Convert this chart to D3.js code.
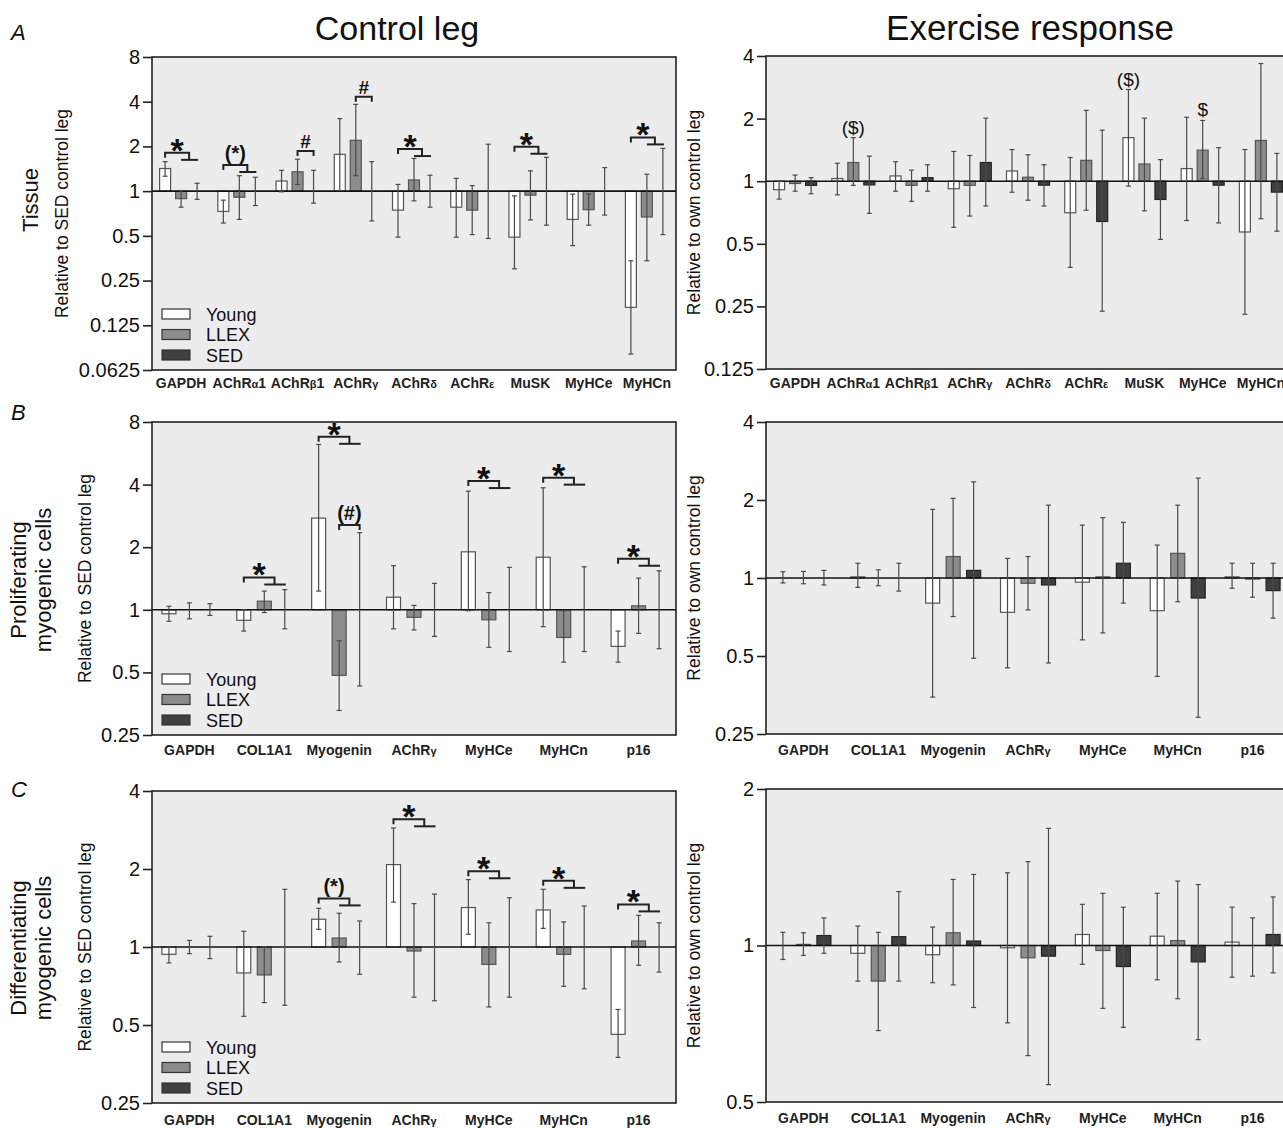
<!DOCTYPE html>
<html>
<head>
<meta charset="utf-8">
<script src="https://cdn.jsdelivr.net/npm/d3@7"></script>
<style>
  body { margin: 0; background: #fff; }
  text { font-family: "Liberation Sans", Arial, sans-serif; }
</style>
</head>
<body>
<svg id="fig" width="1283" height="1128"></svg>
<script>
// groups and categories
const groups = ["Young", "LLEX", "SED"];
const catsTissue = ["GAPDH", "AChRα1", "AChRβ1", "AChRγ", "AChRδ", "AChRε", "MuSK", "MyHCe", "MyHCn"];
const catsCells = ["GAPDH", "COL1A1", "Myogenin", "AChRγ", "MyHCe", "MyHCn", "p16"];

// y tick values
const ticksTissueCtrl = [8, 4, 2, 1, 0.5, 0.25, 0.125, 0.0625];
const ticksTissueEx = [4, 2, 1, 0.5, 0.25, 0.125];
const ticksProlifCtrl = [8, 4, 2, 1, 0.5, 0.25];
const ticksProlifEx = [4, 2, 1, 0.5, 0.25];
const ticksDiffCtrl = [4, 2, 1, 0.5, 0.25];
const ticksDiffEx = [2, 1, 0.5];

// each entry: [mean, lower error, upper error] (fold change)
const tissueCtrlYoung = [[1.42,1.26,1.58],[0.73,0.61,0.87],[1.17,0.99,1.38],[1.77,1.01,3.08],[0.745,0.49,1.11],[0.78,0.49,1.22],[0.49,0.30,0.93],[0.645,0.43,0.955],[0.165,0.08,0.34]];
const tissueCtrlLLEX  = [[0.89,0.78,1.01],[0.91,0.645,1.27],[1.35,1.11,1.64],[2.2,1.27,3.84],[1.19,0.86,1.66],[0.745,0.51,1.09],[0.94,0.64,1.37],[0.75,0.59,0.955],[0.67,0.34,1.30]];
const tissueCtrlSED   = [[1,0.88,1.13],[1,0.80,1.24],[1,0.83,1.38],[1,0.63,1.58],[1,0.78,1.28],[1,0.48,2.07],[1,0.59,1.69],[1,0.69,1.44],[1,0.51,1.94]];

const tissueExYoung = [[0.91,0.82,1.0],[1.03,0.86,1.22],[1.06,0.895,1.24],[0.92,0.60,1.39],[1.12,0.885,1.42],[0.705,0.385,1.3],[1.62,0.947,2.76],[1.15,0.647,2.03],[0.57,0.229,1.42]];
const tissueExLLEX  = [[0.975,0.895,1.07],[1.23,0.955,1.62],[0.955,0.80,1.13],[0.955,0.68,1.33],[1.045,0.81,1.34],[1.26,0.725,2.19],[1.21,0.72,2.01],[1.41,1.03,1.96],[1.57,0.66,3.68]];
const tissueExSED   = [[0.955,0.87,1.04],[0.96,0.70,1.32],[1.04,0.895,1.2],[1.23,0.76,2.01],[0.957,0.76,1.2],[0.64,0.237,1.76],[0.817,0.525,1.27],[0.957,0.63,1.45],[0.886,0.575,1.36]];

const prolifCtrlYoung = [[0.957,0.88,1.04],[0.89,0.79,1.0],[2.76,1.23,6.24],[1.15,0.81,1.63],[1.9,0.99,3.72],[1.79,0.83,3.86],[0.667,0.56,0.79]];
const prolifCtrlLLEX  = [[1,0.905,1.08],[1.10,0.97,1.23],[0.484,0.328,0.71],[0.92,0.80,1.05],[0.895,0.66,1.21],[0.736,0.56,0.99],[1.045,0.77,1.42]];
const prolifCtrlSED   = [[1,0.94,1.07],[1,0.81,1.25],[1,0.43,2.35],[1,0.745,1.34],[1,0.63,1.6],[1,0.63,1.61],[1,0.65,1.54]];

const prolifExYoung = [[1,0.957,1.057],[1.01,0.92,1.14],[0.8,0.347,1.84],[0.737,0.45,1.19],[0.963,0.577,1.6],[0.748,0.417,1.34],[1.01,0.913,1.14]];
const prolifExLLEX  = [[1,0.95,1.06],[1,0.934,1.076],[1.21,0.71,2.03],[0.954,0.753,1.21],[1.01,0.614,1.71],[1.245,0.81,1.91],[0.99,0.843,1.14]];
const prolifExSED   = [[1,0.94,1.07],[1,0.89,1.14],[1.07,0.49,2.35],[0.94,0.47,1.91],[1.14,0.8,1.64],[0.837,0.29,2.43],[0.894,0.70,1.14]];

const diffCtrlYoung = [[0.937,0.868,1.0],[0.794,0.54,1.15],[1.28,1.17,1.41],[2.08,1.49,2.88],[1.42,1.12,1.82],[1.39,1.18,1.67],[0.46,0.375,0.574]];
const diffCtrlLLEX  = [[1,0.943,1.06],[0.78,0.61,1.0],[1.083,0.875,1.35],[0.965,0.64,1.47],[0.857,0.587,1.24],[0.937,0.705,1.25],[1.055,0.85,1.325]];
const diffCtrlSED   = [[1,0.902,1.10],[1,0.596,1.67],[1,0.785,1.26],[1,0.62,1.6],[1,0.64,1.55],[1,0.69,1.44],[1,0.8,1.24]];

const diffExYoung = [[1,0.94,1.06],[0.966,0.854,1.09],[0.96,0.848,1.085],[0.99,0.71,1.38],[1.05,0.92,1.2],[1.042,0.859,1.26],[1.015,0.869,1.185]];
const diffExLLEX  = [[1.005,0.957,1.058],[0.854,0.686,1.06],[1.058,0.84,1.34],[0.947,0.614,1.45],[0.978,0.757,1.26],[1.022,0.79,1.33],[1,0.873,1.13]];
const diffExSED   = [[1.045,0.966,1.13],[1.04,0.854,1.27],[1.02,0.76,1.37],[0.954,0.54,1.68],[0.911,0.696,1.185],[0.93,0.659,1.31],[1.05,0.886,1.24]];

// significance marks: "all" = Young vs LLEX & SED, "pair" = LLEX vs SED; level = fold value of bracket
const tissueCtrlSig = [
  {cat: "GAPDH", label: "*", level: 1.81, type: "all"},
  {cat: "AChRα1", label: "(*)", level: 1.50, type: "all"},
  {cat: "AChRβ1", label: "#", level: 1.86, type: "pair"},
  {cat: "AChRγ", label: "#", level: 4.32, type: "pair"},
  {cat: "AChRδ", label: "*", level: 1.92, type: "all"},
  {cat: "MuSK", label: "*", level: 1.99, type: "all"},
  {cat: "MyHCn", label: "*", level: 2.3, type: "all"}
];
const prolifCtrlSig = [
  {cat: "COL1A1", label: "*", level: 1.43, type: "all"},
  {cat: "Myogenin", label: "*", level: 6.79, type: "all"},
  {cat: "Myogenin", label: "(#)", level: 2.56, type: "pair"},
  {cat: "MyHCe", label: "*", level: 4.16, type: "all"},
  {cat: "MyHCn", label: "*", level: 4.32, type: "all"},
  {cat: "p16", label: "*", level: 1.76, type: "all"}
];
const diffCtrlSig = [
  {cat: "Myogenin", label: "(*)", level: 1.54, type: "all"},
  {cat: "AChRγ", label: "*", level: 3.11, type: "all"},
  {cat: "MyHCe", label: "*", level: 1.96, type: "all"},
  {cat: "MyHCn", label: "*", level: 1.80, type: "all"},
  {cat: "p16", label: "*", level: 1.46, type: "all"}
];
// marks above a single bar in exercise response
const tissueExSig = [
  {cat: "AChRα1", group: "LLEX", label: "($)"},
  {cat: "MuSK", group: "Young", label: "($)"},
  {cat: "MyHCe", group: "LLEX", label: "$"}
];

const fills = {Young: "#ffffff", LLEX: "#8c8c8c", SED: "#3f3f3f"};
const strokes = {Young: "#555", LLEX: "#555", SED: "#222"};

const svg = d3.select("#fig");

// draw a category label, greek letters a bit smaller
function catLabel(sel, s) {
  for (const ch of s) {
    const t = sel.append("tspan").text(ch);
    if (/[α-ω]/.test(ch)) t.style("font-size", "11px");
  }
}

function drawPanel(p) {
  const g = svg.append("g");
  const y = d3.scaleLog().base(2).domain(p.domain).range([p.y1, p.y0]);
  const x = d3.scaleBand().domain(p.cats).range([p.x0, p.x1]);
  const xs = d3.scalePoint().domain(groups).range([-p.sp, p.sp]);
  const cx = (c, grp) => x(c) + x.bandwidth() / 2 + xs(grp);

  g.append("rect")
    .attr("x", p.x0).attr("y", p.y0)
    .attr("width", p.x1 - p.x0).attr("height", p.y1 - p.y0)
    .style("fill", "#ececec");

  const rows = [];
  groups.forEach((grp, gi) => {
    p.series[gi].forEach((d, i) => rows.push({cat: p.cats[i], grp, v: d[0], lo: d[1], hi: d[2]}));
  });

  // bars
  g.selectAll(null)
    .data(rows.filter(d => Math.abs(y(d.v) - y(1)) > 0.6))
    .enter().append("rect")
    .attr("x", d => cx(d.cat, d.grp) - p.bw / 2)
    .attr("y", d => Math.min(y(d.v), y(1)))
    .attr("width", p.bw)
    .attr("height", d => Math.abs(y(d.v) - y(1)))
    .style("fill", d => fills[d.grp])
    .style("stroke", d => strokes[d.grp])
    .style("stroke-width", 1.2);

  // line at 1
  g.append("line")
    .attr("x1", p.x0).attr("x2", p.x1)
    .attr("y1", y(1)).attr("y2", y(1))
    .style("stroke", "#111").style("stroke-width", 1.6);

  // error bars
  const eb = g.selectAll(null).data(rows).enter().append("g")
    .style("stroke", "#4a4a4a").style("stroke-width", 1.2);
  eb.append("line")
    .attr("x1", d => cx(d.cat, d.grp)).attr("x2", d => cx(d.cat, d.grp))
    .attr("y1", d => y(d.lo)).attr("y2", d => y(d.hi));
  ["lo", "hi"].forEach(k => {
    eb.append("line")
      .attr("x1", d => cx(d.cat, d.grp) - 2.5).attr("x2", d => cx(d.cat, d.grp) + 2.5)
      .attr("y1", d => y(d[k])).attr("y2", d => y(d[k]));
  });

  // frame
  g.append("rect")
    .attr("x", p.x0).attr("y", p.y0)
    .attr("width", p.x1 - p.x0).attr("height", p.y1 - p.y0)
    .style("fill", "none").style("stroke", "#222").style("stroke-width", 1.6);

  // y axis
  const ax = g.append("g")
    .attr("transform", "translate(" + p.x0 + ",0)")
    .call(d3.axisLeft(y).tickValues(p.ticks).tickFormat(d => String(d)).tickSize(9).tickPadding(3));
  ax.select(".domain").remove();
  ax.selectAll("line").style("stroke", "#222").style("stroke-width", 1.6);
  ax.selectAll("text").style("font-size", "20px").style("fill", "#111")
    .style("font-family", "'Liberation Sans', Arial, sans-serif");

  // x labels
  p.cats.forEach(c => {
    const t = g.append("text")
      .attr("x", x(c) + x.bandwidth() / 2).attr("y", p.xlabY)
      .attr("text-anchor", "middle")
      .style("font-size", "14px").style("font-weight", "bold").style("fill", "#222");
    catLabel(t, c);
  });

  // significance brackets
  (p.sig || []).forEach(s => {
    const by = y(s.level);
    const xY = cx(s.cat, "Young"), xL = cx(s.cat, "LLEX"), xS = cx(s.cat, "SED");
    let x1, x2;
    if (s.type === "all") {
      x1 = xY; x2 = xL + p.sp / 2;
      g.append("path")
        .attr("d", `M${x1},${by + 5}V${by}H${x2}V${by + 7}`)
        .style("fill", "none").style("stroke", "#222").style("stroke-width", 2);
      g.append("line")
        .attr("x1", xL).attr("x2", xS + 1).attr("y1", by + 7).attr("y2", by + 7)
        .style("stroke", "#222").style("stroke-width", 2);
    } else {
      x1 = xL; x2 = xS;
      g.append("path")
        .attr("d", `M${x1},${by + 5}V${by}H${x2}V${by + 5}`)
        .style("fill", "none").style("stroke", "#222").style("stroke-width", 2);
    }
    const star = s.label === "*";
    const paren = s.label.startsWith("(");
    g.append("text")
      .attr("x", (x1 + x2) / 2)
      .attr("y", star ? by + 9 : (paren ? by - 5 : by - 3))
      .attr("text-anchor", "middle")
      .style("font-size", star ? "34px" : (paren ? "20px" : "19px"))
      .style("font-weight", "bold")
      .style("fill", "#111")
      .text(s.label);
  });

  // single-bar marks
  (p.marks || []).forEach(m => {
    const gi = groups.indexOf(m.group);
    const i = p.cats.indexOf(m.cat);
    g.append("text")
      .attr("x", cx(m.cat, m.group))
      .attr("y", y(p.series[gi][i][2]) - 4)
      .attr("text-anchor", "middle")
      .style("font-size", "19px").style("fill", "#111")
      .text(m.label);
  });

  // legend
  if (p.legend) {
    groups.forEach((grp, k) => {
      const ry = p.y1 - 20 - 20.5 * (2 - k);
      g.append("rect")
        .attr("x", p.x0 + 10).attr("y", ry).attr("width", 28).attr("height", 10)
        .style("fill", fills[grp]).style("stroke", "#333").style("stroke-width", 1.2);
      g.append("text")
        .attr("x", p.x0 + 54).attr("y", ry + 11.5)
        .style("font-size", "18px").style("fill", "#111")
        .text(grp);
    });
  }

  // inner y label
  g.append("text")
    .attr("transform", `translate(${p.ylabX},${(p.y0 + p.y1) / 2}) rotate(-90)`)
    .attr("text-anchor", "middle")
    .style("font-size", "17.5px").style("fill", "#111")
    .text(p.ylab);
}

const L = {x0: 152, x1: 676};
const R = {x0: 766, x1: 1290};

drawPanel({...L, y0: 57, y1: 370, domain: [0.0625, 8], ticks: ticksTissueCtrl, cats: catsTissue,
  series: [tissueCtrlYoung, tissueCtrlLLEX, tissueCtrlSED], sp: 16, bw: 11, xlabY: 388,
  sig: tissueCtrlSig, legend: true, ylab: "Relative to SED control leg", ylabX: 68});
drawPanel({...R, y0: 56, y1: 369, domain: [0.125, 4], ticks: ticksTissueEx, cats: catsTissue,
  series: [tissueExYoung, tissueExLLEX, tissueExSED], sp: 16, bw: 11, xlabY: 388,
  marks: tissueExSig, ylab: "Relative to own control leg", ylabX: 700});
drawPanel({...L, y0: 422, y1: 735, domain: [0.25, 8], ticks: ticksProlifCtrl, cats: catsCells,
  series: [prolifCtrlYoung, prolifCtrlLLEX, prolifCtrlSED], sp: 20.5, bw: 14, xlabY: 755,
  sig: prolifCtrlSig, legend: true, ylab: "Relative to SED control leg", ylabX: 91});
drawPanel({...R, y0: 422, y1: 734, domain: [0.25, 4], ticks: ticksProlifEx, cats: catsCells,
  series: [prolifExYoung, prolifExLLEX, prolifExSED], sp: 20.5, bw: 14, xlabY: 755,
  ylab: "Relative to own control leg", ylabX: 700});
drawPanel({...L, y0: 791, y1: 1103, domain: [0.25, 4], ticks: ticksDiffCtrl, cats: catsCells,
  series: [diffCtrlYoung, diffCtrlLLEX, diffCtrlSED], sp: 20.5, bw: 14, xlabY: 1125,
  sig: diffCtrlSig, legend: true, ylab: "Relative to SED control leg", ylabX: 91});
drawPanel({...R, y0: 789, y1: 1102, domain: [0.5, 2], ticks: ticksDiffEx, cats: catsCells,
  series: [diffExYoung, diffExLLEX, diffExSED], sp: 20.5, bw: 14, xlabY: 1123,
  ylab: "Relative to own control leg", ylabX: 700});

// column titles
svg.append("text").attr("x", 397).attr("y", 40).attr("text-anchor", "middle")
  .style("font-size", "34px").style("fill", "#111").text("Control leg");
svg.append("text").attr("x", 1030).attr("y", 40).attr("text-anchor", "middle")
  .style("font-size", "35px").style("fill", "#111").text("Exercise response");

// panel letters
[["A", 40], ["B", 420], ["C", 797]].forEach(([t, yy]) => {
  svg.append("text").attr("x", 11).attr("y", yy)
    .style("font-size", "22px").style("font-style", "italic").style("fill", "#111").text(t);
});

// row labels
function rowLabel(lines, cy) {
  lines.forEach((s, i) => {
    svg.append("text")
      .attr("transform", `translate(${lines.length === 1 ? 38 : 26 + 25 * i},${cy}) rotate(-90)`)
      .attr("text-anchor", "middle")
      .style("font-size", "22px").style("fill", "#111").text(s);
  });
}
rowLabel(["Tissue"], 200);
rowLabel(["Proliferating", "myogenic cells"], 580);
rowLabel(["Differentiating", "myogenic cells"], 948);
</script>
</body>
</html>
